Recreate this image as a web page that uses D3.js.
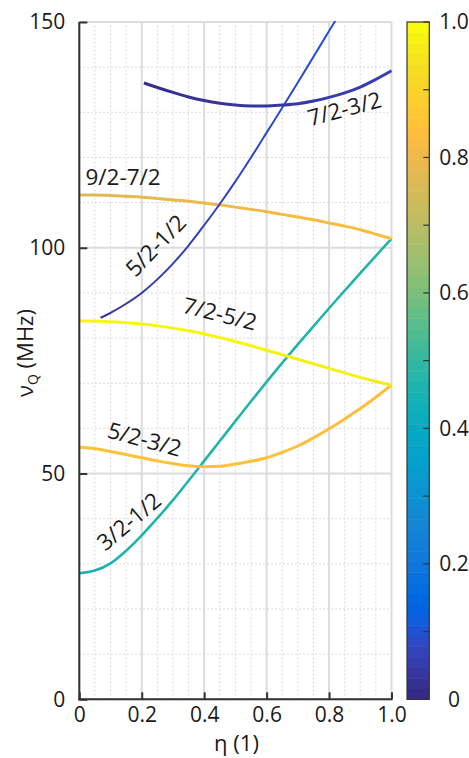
<!DOCTYPE html>
<html>
<head>
<meta charset="utf-8">
<script src="https://cdn.jsdelivr.net/npm/d3@7"></script>
<style>
  html, body { margin: 0; padding: 0; background: #fff; }
  svg { display: block; font-family: "Open Sans", "DejaVu Sans", sans-serif; }
</style>
</head>
<body>
<svg id="chart" width="469" height="758"></svg>
<script>
// ---- NQR transition frequencies vs. asymmetry parameter η ----
// η grid shared by the Δm = 1 transitions
const etaGrid = [0, 0.05, 0.1, 0.15, 0.2, 0.25, 0.3, 0.35, 0.4, 0.45, 0.5,
                 0.55, 0.6, 0.65, 0.7, 0.75, 0.8, 0.85, 0.9, 0.95, 1.0];

// ν_Q (MHz)
const nu_3_1 = [27.9, 28.5, 30.1, 32.9, 36.3, 40.1, 44.1, 48.4, 52.8, 57.2, 61.6,
                66.0, 70.3, 74.5, 78.6, 82.6, 86.6, 90.5, 94.4, 98.2, 102.0];
const nu_5_3 = [55.8, 55.5, 54.9, 54.2, 53.5, 52.8, 52.2, 51.7, 51.5, 51.6, 52.1,
                52.7, 53.5, 54.7, 56.1, 57.9, 59.9, 62.1, 64.4, 66.9, 69.6];
const nu_7_5 = [83.8, 83.8, 83.6, 83.4, 83.1, 82.7, 82.2, 81.6, 80.9, 80.1, 79.2,
                78.3, 77.3, 76.3, 75.3, 74.3, 73.3, 72.3, 71.3, 70.4, 69.6];
const nu_9_7 = [111.7, 111.7, 111.6, 111.4, 111.2, 110.9, 110.6, 110.3, 109.9, 109.5, 109.0,
                108.5, 108.0, 107.4, 106.8, 106.2, 105.5, 104.8, 104.0, 103.0, 102.0];

// Δm = 2 transitions, shown only where they carry intensity
const eta_5_1 = [0.068, 0.1, 0.15, 0.2, 0.25, 0.3, 0.35, 0.4, 0.45, 0.5, 0.55,
                 0.6, 0.65, 0.7, 0.75, 0.8, 0.83];
const nu_5_1  = [84.5, 85.6, 87.6, 90.0, 93.0, 96.5, 100.5, 105.0, 109.7, 114.7, 120.0,
                 125.5, 131.0, 136.6, 142.3, 148.0, 151.4];
const eta_7_3 = [0.207, 0.25, 0.3, 0.35, 0.4, 0.45, 0.5, 0.55, 0.6, 0.65, 0.7,
                 0.75, 0.8, 0.85, 0.9, 0.95, 1.0];
const nu_7_3  = [136.5, 135.5, 134.4, 133.4, 132.6, 132.0, 131.6, 131.4, 131.4, 131.6, 131.9,
                 132.5, 133.3, 134.3, 135.6, 137.3, 139.2];

// relative intensity (colour scale 0…1)
const int_3_1 = [0.45, 0.45, 0.46, 0.46, 0.46, 0.47, 0.47, 0.47, 0.47, 0.47, 0.47,
                 0.47, 0.47, 0.47, 0.47, 0.47, 0.47, 0.47, 0.47, 0.47, 0.47];
const int_5_3 = [0.85, 0.85, 0.85, 0.85, 0.85, 0.85, 0.85, 0.85, 0.85, 0.85, 0.85,
                 0.85, 0.85, 0.85, 0.84, 0.84, 0.84, 0.84, 0.84, 0.84, 0.84];
const int_7_5 = [0.99, 0.99, 0.99, 0.99, 0.99, 0.99, 0.99, 0.99, 0.99, 0.99, 0.99,
                 0.99, 0.98, 0.98, 0.98, 0.98, 0.98, 0.98, 0.98, 0.97, 0.97];
const int_9_7 = [0.78, 0.78, 0.78, 0.78, 0.79, 0.79, 0.79, 0.8, 0.8, 0.8, 0.81,
                 0.81, 0.81, 0.82, 0.82, 0.82, 0.83, 0.83, 0.83, 0.84, 0.84];
const int_5_1 = [0.01, 0.02, 0.03, 0.04, 0.04, 0.05, 0.05, 0.06, 0.06, 0.07, 0.07,
                 0.08, 0.08, 0.08, 0.09, 0.09, 0.09];
const int_7_3 = [0.01, 0.01, 0.01, 0.02, 0.02, 0.02, 0.03, 0.03, 0.03, 0.03, 0.04,
                 0.04, 0.04, 0.05, 0.05, 0.05, 0.06];

// tick values
const xTicks = [0, 0.2, 0.4, 0.6, 0.8, 1.0];
const yTicks = [0, 50, 100, 150];
const cTicks = [0, 0.1, 0.2, 0.3, 0.4, 0.5, 0.6, 0.7, 0.8, 0.9, 1.0];
const cLabels = [0, 0.2, 0.4, 0.6, 0.8, 1.0];

// parula colour table (64 levels)
const parula = [
 [0.2081,0.1663,0.5292],[0.2116,0.1898,0.5777],[0.2123,0.2138,0.6270],[0.2081,0.2386,0.6771],
 [0.1959,0.2645,0.7279],[0.1707,0.2919,0.7792],[0.1253,0.3242,0.8303],[0.0591,0.3598,0.8683],
 [0.0117,0.3875,0.8820],[0.0060,0.4086,0.8828],[0.0165,0.4266,0.8786],[0.0329,0.4430,0.8720],
 [0.0498,0.4586,0.8641],[0.0629,0.4737,0.8554],[0.0723,0.4887,0.8467],[0.0779,0.5040,0.8384],
 [0.0793,0.5200,0.8312],[0.0749,0.5375,0.8263],[0.0641,0.5570,0.8240],[0.0488,0.5772,0.8228],
 [0.0343,0.5966,0.8199],[0.0265,0.6137,0.8135],[0.0239,0.6287,0.8038],[0.0231,0.6418,0.7913],
 [0.0228,0.6535,0.7768],[0.0267,0.6642,0.7607],[0.0384,0.6743,0.7436],[0.0590,0.6838,0.7254],
 [0.0843,0.6928,0.7062],[0.1133,0.7015,0.6859],[0.1453,0.7098,0.6646],[0.1801,0.7177,0.6424],
 [0.2178,0.7250,0.6193],[0.2586,0.7317,0.5954],[0.3022,0.7376,0.5712],[0.3482,0.7424,0.5473],
 [0.3953,0.7459,0.5244],[0.4420,0.7481,0.5033],[0.4871,0.7491,0.4840],[0.5300,0.7491,0.4661],
 [0.5709,0.7485,0.4494],[0.6099,0.7473,0.4337],[0.6473,0.7456,0.4188],[0.6834,0.7435,0.4044],
 [0.7184,0.7411,0.3905],[0.7525,0.7384,0.3768],[0.7858,0.7356,0.3633],[0.8185,0.7327,0.3498],
 [0.8507,0.7299,0.3360],[0.8824,0.7274,0.3217],[0.9139,0.7258,0.3063],[0.9450,0.7261,0.2886],
 [0.9739,0.7314,0.2666],[0.9938,0.7455,0.2403],[0.9990,0.7653,0.2164],[0.9955,0.7861,0.1967],
 [0.9880,0.8066,0.1794],[0.9789,0.8271,0.1633],[0.9697,0.8481,0.1475],[0.9626,0.8705,0.1309],
 [0.9589,0.8949,0.1132],[0.9598,0.9218,0.0948],[0.9661,0.9514,0.0755],[0.9763,0.9831,0.0538]
].map(c => d3.rgb(c[0] * 255, c[1] * 255, c[2] * 255).formatHex());

const colour = d3.scaleSequential(d3.piecewise(d3.interpolateRgb, parula)).domain([0, 1]);

// ---- layout ----
const svg = d3.select("#chart");
const x = d3.scaleLinear().domain([0, 1]).range([79.3, 391.5]);
const y = d3.scaleLinear().domain([0, 150]).range([699.3, 22]);
const cy = d3.scaleLinear().domain([0, 1]).range([699.3, 22]);
const cbX0 = 407, cbX1 = 429.3;
const ink = "#1a1a1a";

// minor grid (dotted)
const minor = svg.append("g");
minor.selectAll("line.vx").data(d3.range(0, 21).map(i => i * 0.05)).join("line")
  .attr("x1", d => x(d)).attr("x2", d => x(d)).attr("y1", y(0)).attr("y2", y(150));
minor.selectAll("line.hy").data(d3.range(0, 16).map(i => i * 10)).join("line")
  .attr("x1", x(0)).attr("x2", x(1)).attr("y1", d => y(d)).attr("y2", d => y(d));
minor.selectAll("line").attr("stroke", "#cfcfcf").attr("stroke-width", 1)
  .attr("stroke-dasharray", "1.5,2.5");

// major grid
const major = svg.append("g").attr("stroke", "#dcdcdc").attr("stroke-width", 2);
major.selectAll("line.v").data(xTicks).join("line")
  .attr("x1", d => x(d)).attr("x2", d => x(d)).attr("y1", y(0)).attr("y2", y(150));
major.selectAll("line.h").data(yTicks).join("line").attr("class", "h")
  .attr("x1", x(0)).attr("x2", x(1)).attr("y1", d => y(d)).attr("y2", d => y(d));

// ---- curves ----
const defs = svg.append("defs");
defs.append("clipPath").attr("id", "plotClip").append("rect")
  .attr("x", x(0)).attr("y", y(150) - 1).attr("width", x(1) - x(0) + 2).attr("height", y(0) - y(150) + 1);

const curves = [
  { id: "t31", eta: etaGrid, nu: nu_3_1, inten: int_3_1, w: 2.6 },
  { id: "t53", eta: etaGrid, nu: nu_5_3, inten: int_5_3, w: 3 },
  { id: "t75", eta: etaGrid, nu: nu_7_5, inten: int_7_5, w: 3 },
  { id: "t97", eta: etaGrid, nu: nu_9_7, inten: int_9_7, w: 3 },
  { id: "t51", eta: eta_5_1, nu: nu_5_1, inten: int_5_1, w: 2 },
  { id: "t73", eta: eta_7_3, nu: nu_7_3, inten: int_7_3, w: 3 }
];

const line = d3.line().x(d => x(d[0])).y(d => y(d[1])).curve(d3.curveMonotoneX);
const gCurves = svg.append("g").attr("clip-path", "url(#plotClip)");

curves.forEach(c => {
  const x1 = x(c.eta[0]), x2 = x(c.eta[c.eta.length - 1]);
  const grad = defs.append("linearGradient").attr("id", "g_" + c.id)
    .attr("gradientUnits", "userSpaceOnUse")
    .attr("x1", x1).attr("x2", x2).attr("y1", 0).attr("y2", 0);
  c.eta.forEach((e, i) => {
    grad.append("stop").attr("offset", (x(e) - x1) / (x2 - x1))
      .attr("stop-color", colour(c.inten[i]));
  });
  gCurves.append("path")
    .datum(c.eta.map((e, i) => [e, c.nu[i]]))
    .attr("d", line)
    .attr("fill", "none")
    .attr("stroke", `url(#g_${c.id})`)
    .attr("stroke-width", c.w)
    .attr("stroke-linejoin", "round");
});

// ---- transition labels ----
const labels = [
  { text: "9/2-7/2", x: 123, y: 185, a: 0 },
  { text: "5/2-1/2", x: 161.5, y: 251, a: -46 },
  { text: "7/2-5/2", x: 218, y: 321.5, a: 14 },
  { text: "5/2-3/2", x: 142.5, y: 447, a: 15 },
  { text: "3/2-1/2", x: 134, y: 527.5, a: -40 },
  { text: "7/2-3/2", x: 346.5, y: 116.5, a: -15 }
];
svg.append("g").selectAll("text").data(labels).join("text")
  .attr("transform", d => `translate(${d.x},${d.y}) rotate(${d.a})`)
  .attr("text-anchor", "middle")
  .attr("font-size", 22.5)
  .attr("fill", ink)
  .text(d => d.text);

// ---- axes ----
const fmt = d => d === 0 ? "0" : d3.format(".1f")(d);

const gx = svg.append("g").attr("transform", `translate(0,${y(0)})`)
  .call(d3.axisBottom(x).tickValues(xTicks).tickFormat(fmt)
    .tickSizeInner(-7).tickSizeOuter(0).tickPadding(8));
const gy = svg.append("g").attr("transform", `translate(${x(0)},0)`)
  .call(d3.axisLeft(y).tickValues(yTicks).tickFormat(d => d)
    .tickSizeInner(-8).tickSizeOuter(0).tickPadding(14));

[gx, gy].forEach(g => {
  g.select(".domain").attr("stroke", "#333").attr("stroke-width", 2);
  g.selectAll(".tick line").attr("stroke", "#333").attr("stroke-width", 2);
  g.selectAll(".tick text").attr("fill", ink).attr("font-size", 21)
    .attr("font-family", "\"Open Sans\", sans-serif");
});
gx.select(".domain").attr("d", `M${x(0) - 1},0H${x(1) + 1}`);
gy.select(".domain").attr("d", `M0,${y(150)}V${y(0) + 1}`);

// axis titles
svg.append("text")
  .attr("x", 236.5).attr("y", 751)
  .attr("text-anchor", "middle").attr("font-size", 22).attr("fill", ink)
  .text("η (1)");

const yt = svg.append("text")
  .attr("transform", "translate(33,353) rotate(-90)")
  .attr("text-anchor", "middle").attr("font-size", 22).attr("fill", ink);
yt.append("tspan").text("ν");
yt.append("tspan").attr("font-size", 14).attr("dy", 5).text("Q");
yt.append("tspan").attr("dy", -5).text(" (MHz)");

// ---- colour bar ----
const cb = svg.append("g");
const levels = d3.range(parula.length);
cb.selectAll("rect.band").data(levels).join("rect")
  .attr("x", cbX0)
  .attr("width", cbX1 - cbX0)
  .attr("y", i => cy((i + 1) / parula.length))
  .attr("height", i => cy(i / parula.length) - cy((i + 1) / parula.length) + 0.5)
  .attr("fill", i => parula[i]);
cb.append("rect")
  .attr("x", cbX0).attr("y", cy(1)).attr("width", cbX1 - cbX0).attr("height", cy(0) - cy(1))
  .attr("fill", "none").attr("stroke", "#333").attr("stroke-width", 1.2);
cb.selectAll("line.ct").data(cTicks).join("line")
  .attr("x1", cbX1 - 6).attr("x2", cbX1)
  .attr("y1", d => cy(d)).attr("y2", d => cy(d))
  .attr("stroke", "#333").attr("stroke-width", 1.2);
cb.selectAll("text").data(cLabels).join("text")
  .attr("x", 454).attr("y", d => cy(d)).attr("dy", "0.35em")
  .attr("text-anchor", "middle").attr("font-size", 21).attr("fill", ink)
  .text(fmt);
</script>
</body>
</html>
